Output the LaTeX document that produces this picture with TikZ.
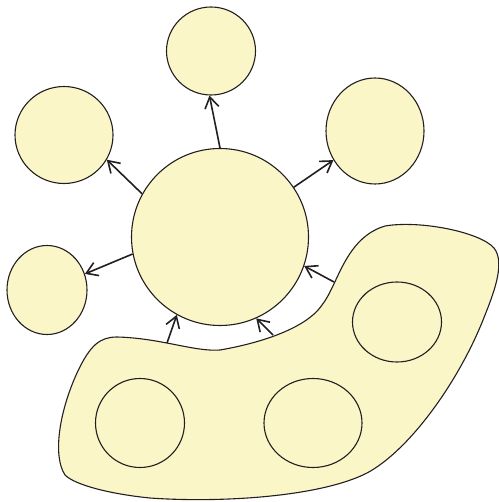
\documentclass[tikz,border=0pt]{standalone}
\usepackage{tikz}
\usetikzlibrary{arrows.meta,shapes.geometric}
\definecolor{paleyellow}{RGB}{250,246,200}
\definecolor{inkgray}{RGB}{35,31,32}

\begin{document}
\begin{tikzpicture}[
    x=1pt, y=-1pt,
    bubble/.style={ellipse, draw=inkgray, fill=paleyellow, line width=1.1pt, inner sep=0pt},
    blob/.style={draw=inkgray, fill=paleyellow, line width=1.1pt},
    arrow/.style={-{Straight Barb[length=11pt,width=14pt]}, draw=inkgray, line width=1.6pt}
]
\useasboundingbox (0,0) rectangle (498,502);

% Region holding three groups
\draw[blob] (117,337) .. controls (160,338) and (195,352) .. (220,350)
    .. controls (255,344) and (305,330) .. (322,305)
    .. controls (338,285) and (345,238) .. (385,226)
    .. controls (420,220) and (480,232) .. (494,248)
    .. controls (505,262) and (495,290) .. (485,315)
    .. controls (460,380) and (410,450) .. (367,473)
    .. controls (320,497) and (220,503) .. (150,498)
    .. controls (110,494) and (75,485) .. (65,475)
    .. controls (52,455) and (60,410) .. (77,373)
    .. controls (90,345) and (100,337) .. (117,337) -- cycle;

% Inner groups
\node[bubble, minimum width=89pt, minimum height=89pt] (inA) at (140,423) {};
\node[bubble, minimum width=98pt, minimum height=89pt] (inB) at (313,423) {};
\node[bubble, minimum width=89pt, minimum height=80pt] (inC) at (397,322) {};

% Centre and outer groups
\node[bubble, minimum width=177pt, minimum height=177pt] (hub) at (220,237) {};
\node[bubble, minimum width=89pt, minimum height=88pt] (top) at (211,51) {};
\node[bubble, minimum width=98pt, minimum height=97pt] (upleft) at (64,135) {};
\node[bubble, minimum width=98pt, minimum height=106pt] (right) at (375,131) {};
\node[bubble, minimum width=80pt, minimum height=89pt] (left) at (47,290) {};

% Start points on the region border
\coordinate (srcA) at (167,343);
\coordinate (srcB) at (273,335);
\coordinate (srcC) at (334,282);

\draw[arrow] (hub.90.6) -- (top.268.8);
\draw[arrow] (hub.151.5) -- (upleft.330.7);
\draw[arrow] (hub.34) -- (right.215.4);
\draw[arrow] (hub.191.9) -- (left.23);

\draw[arrow] (srcA) -- (hub.241.5);
\draw[arrow] (srcB) -- (hub.294.5);
\draw[arrow] (srcC) -- (hub.341.6);

\end{tikzpicture}
\end{document}
